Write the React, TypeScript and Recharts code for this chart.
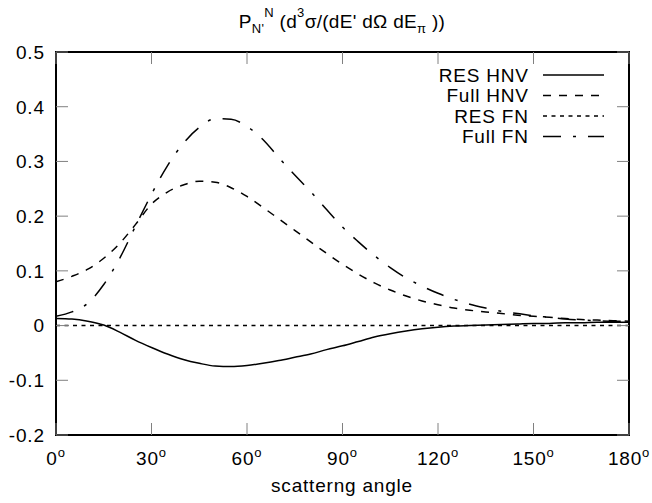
import { LineChart, Line, XAxis, YAxis, ReferenceArea } from 'recharts'

// scattering angle in degrees
const angles = [
  0, 5, 10, 15, 20, 25, 30, 35, 40, 45, 50, 55, 60, 65, 70, 75, 80, 85, 90,
  95, 100, 105, 110, 115, 120, 125, 130, 135, 140, 145, 150, 155, 160, 165, 170, 175, 180,
]
const resHnv = [
  0.013, 0.012, 0.008, 0.001, -0.012, -0.027, -0.04, -0.052, -0.062, -0.069, -0.074, -0.075, -0.073,
  -0.069, -0.064, -0.058, -0.052, -0.044, -0.037, -0.029, -0.021, -0.015, -0.01, -0.006, -0.003,
  -0.001, 0.0, 0.001, 0.002, 0.003, 0.004, 0.004, 0.005, 0.005, 0.006, 0.006, 0.006,
]
const fullHnv = [
  0.08, 0.09, 0.103, 0.123, 0.15, 0.185, 0.222, 0.244, 0.257, 0.264, 0.262, 0.252, 0.236, 0.216,
  0.195, 0.174, 0.153, 0.132, 0.112, 0.094, 0.078, 0.065, 0.054, 0.045, 0.038, 0.032, 0.028, 0.025,
  0.022, 0.019, 0.017, 0.015, 0.013, 0.011, 0.01, 0.009, 0.008,
]
const resFn = [
  0, 0, 0, 0, 0, 0, 0, 0, 0, 0, 0, 0, 0, 0, 0, 0, 0, 0, 0,
  0, 0, 0, 0, 0, 0, 0, 0, 0, 0, 0, 0, 0, 0, 0, 0, 0, 0,
]
const fullFn = [
  0.017, 0.025, 0.041, 0.075, 0.123, 0.182, 0.24, 0.292, 0.333, 0.362, 0.378, 0.377, 0.364, 0.34,
  0.307, 0.275, 0.245, 0.212, 0.18, 0.153, 0.128, 0.106, 0.087, 0.072, 0.059, 0.048, 0.039, 0.032,
  0.026, 0.022, 0.018, 0.015, 0.012, 0.01, 0.009, 0.008, 0.008,
]

const xTicks = [0, 30, 60, 90, 120, 150, 180]
const yTicks = [-0.2, -0.1, 0, 0.1, 0.2, 0.3, 0.4, 0.5]
const yTickLabels = ['-0.2', '-0.1', '0', '0.1', '0.2', '0.3', '0.4', '0.5']

const series = [
  { key: 'resHnv', name: 'RES HNV', dash: undefined },
  { key: 'fullHnv', name: 'Full HNV', dash: '8 8' },
  { key: 'resFn', name: 'RES FN', dash: '4 4.5' },
  { key: 'fullFn', name: 'Full FN', dash: '18 12 3 12' },
]

const data = angles.map((a, i) => ({
  angle: a,
  resHnv: resHnv[i],
  fullHnv: fullHnv[i],
  resFn: resFn[i],
  fullFn: fullFn[i],
}))

const W = 652
const H = 503
const PL = 56
const PR = 629
const PT = 52
const PB = 435
const FONT = '"Liberation Sans", Arial, sans-serif'
const FS = 19
const LS = 0.8
const SMALL = 13
const TICK = 12
const TICK_COLOR = '#808080'

function YTick(props: any) {
  const { x, y, payload } = props
  const i = yTicks.indexOf(payload.value)
  return (
    <g>
      <line x1={PL} x2={PL + TICK} y1={y} y2={y} stroke={TICK_COLOR} />
      <line x1={PR - TICK} x2={PR} y1={y} y2={y} stroke={TICK_COLOR} />
      <text x={x + LS} y={y} dy="0.36em" textAnchor="end" fontSize={FS} letterSpacing={LS} fontFamily={FONT} fill="#000">
        {yTickLabels[i]}
      </text>
    </g>
  )
}

function XTick(props: any) {
  const { x, y, payload } = props
  return (
    <g>
      <line x1={x} x2={x} y1={PB} y2={PB - TICK} stroke={TICK_COLOR} />
      <line x1={x} x2={x} y1={PT} y2={PT + TICK} stroke={TICK_COLOR} />
      <text x={x} y={y + 18} textAnchor="middle" fontSize={FS} letterSpacing={LS} fontFamily={FONT} fill="#000">
        {payload.value}
        <tspan fontSize={SMALL} dy={-8}>o</tspan>
      </text>
    </g>
  )
}

export default function App() {
  return (
    <div style={{ position: 'absolute', left: 0, top: 0, width: W, height: H, background: '#fff', fontFamily: FONT }}>
      <LineChart width={W} height={H} data={data} margin={{ top: PT, right: W - PR, left: 0, bottom: 38 }}>
        <XAxis
          dataKey="angle"
          type="number"
          domain={[0, 180]}
          ticks={xTicks}
          tick={<XTick />}
          tickSize={0}
          tickMargin={12}
          axisLine={false}
          tickLine={false}
          height={30}
          interval={0}
        />
        <YAxis
          type="number"
          domain={[-0.2, 0.5]}
          ticks={yTicks}
          tick={<YTick />}
          tickSize={0}
          tickMargin={12}
          axisLine={false}
          tickLine={false}
          width={PL}
          interval={0}
        />
        {series.map((s) => (
          <Line
            key={s.key}
            dataKey={s.key}
            type="monotone"
            stroke="#000"
            strokeWidth={1.5}
            strokeDasharray={s.dash}
            dot={false}
            isAnimationActive={false}
          />
        ))}
        <ReferenceArea x1={0} x2={180} y1={-0.2} y2={0.5} fill="none" stroke="#000" strokeWidth={2} />
      </LineChart>

      <svg width={W} height={H} style={{ position: 'absolute', left: 0, top: 0, pointerEvents: 'none' }}>
        <text x={342} y={28} textAnchor="middle" fontSize={FS} letterSpacing={0.3} fontFamily={FONT} fill="#000">
          P
          <tspan fontSize={SMALL} dy={5}>N'</tspan>
          <tspan fontSize={SMALL} dy={-16}>N</tspan>
          <tspan dy={11}> (d</tspan>
          <tspan fontSize={SMALL} dy={-11}>3</tspan>
          <tspan dy={11}>σ/(dE' dΩ dE</tspan>
          <tspan fontSize={SMALL} dy={5}>π</tspan>
          <tspan dy={-5}> ))</tspan>
        </text>
        <text x={342} y={492} textAnchor="middle" fontSize={FS} letterSpacing={LS} fontFamily={FONT} fill="#000">
          scatterng angle
        </text>
        {series.map((s, i) => (
          <g key={s.key}>
            <text x={528 + LS} y={75 + i * 20.5} dy="0.36em" textAnchor="end" fontSize={FS} letterSpacing={LS} fontFamily={FONT} fill="#000">
              {s.name}
            </text>
            <line x1={543} x2={604} y1={75 + i * 20.5} y2={75 + i * 20.5} stroke="#000" strokeWidth={1.5} strokeDasharray={s.dash} />
          </g>
        ))}
      </svg>
    </div>
  )
}
